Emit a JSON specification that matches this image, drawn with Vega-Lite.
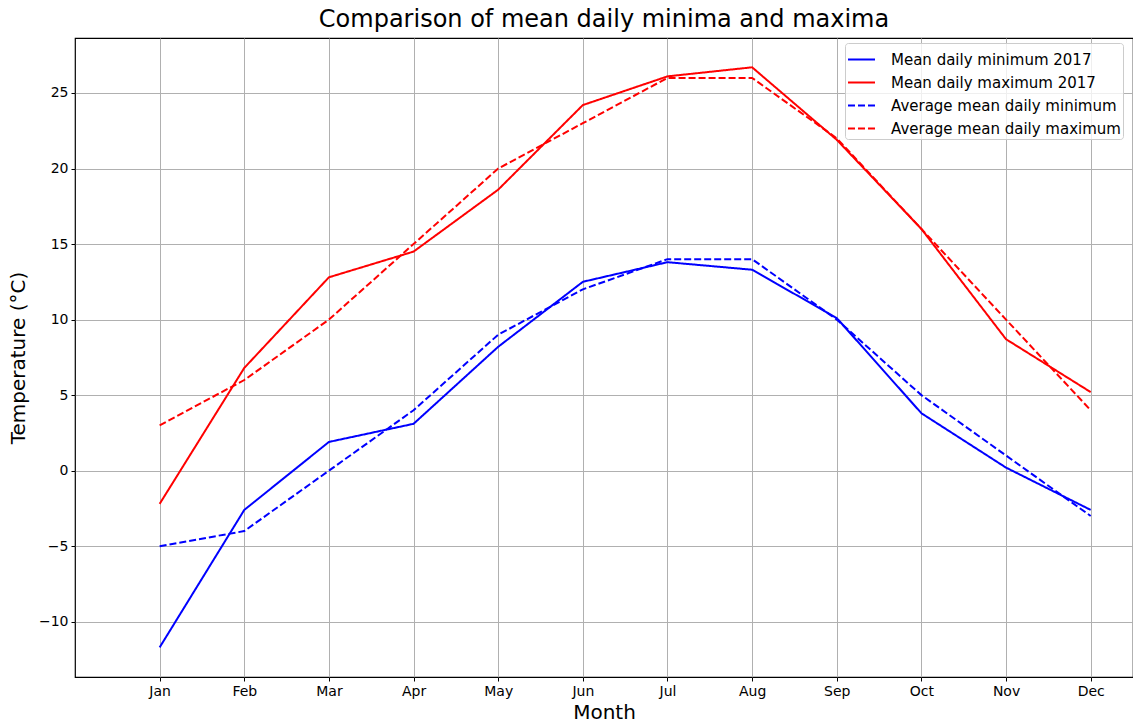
{
  "$schema": "https://vega.github.io/schema/vega-lite/v6.json",
  "width": 1058,
  "height": 639,
  "autosize": "none",
  "padding": {"left": 75, "top": 38, "right": 0, "bottom": 45},
  "background": "white",
  "config": {
    "font": "DejaVu Sans",
    "view": {"stroke": "#000000", "strokeWidth": 1.2},
    "axis": {
      "grid": true,
      "gridColor": "#b0b0b0",
      "gridWidth": 1,
      "domain": false,
      "tickColor": "#000000",
      "tickSize": 4,
      "labelFont": "DejaVu Sans",
      "labelFontSize": 14,
      "labelColor": "#000000",
      "titleFont": "DejaVu Sans",
      "titleFontSize": 20,
      "titleFontWeight": "normal",
      "titleColor": "#000000"
    },
    "legend": {
      "labelFont": "DejaVu Sans",
      "labelFontSize": 15,
      "labelColor": "#000000",
      "labelLimit": 400,
      "labelOffset": 15,
      "symbolType": "stroke",
      "symbolSize": 729,
      "symbolStrokeWidth": 2,
      "rowPadding": 0,
      "padding": 2,
      "fillColor": "rgba(255,255,255,0.8)",
      "strokeColor": "#cccccc",
      "cornerRadius": 3
    }
  },
  "title": {
    "text": "Comparison of mean daily minima and maxima",
    "font": "DejaVu Sans",
    "fontSize": 24,
    "fontWeight": "normal",
    "color": "#000000",
    "anchor": "middle",
    "offset": 6
  },
  "data": {
    "values": [
      {"month": 0, "temp": -11.7, "series": "Mean daily minimum 2017"},
      {"month": 1, "temp": -2.6, "series": "Mean daily minimum 2017"},
      {"month": 2, "temp": 1.9, "series": "Mean daily minimum 2017"},
      {"month": 3, "temp": 3.1, "series": "Mean daily minimum 2017"},
      {"month": 4, "temp": 8.2, "series": "Mean daily minimum 2017"},
      {"month": 5, "temp": 12.5, "series": "Mean daily minimum 2017"},
      {"month": 6, "temp": 13.8, "series": "Mean daily minimum 2017"},
      {"month": 7, "temp": 13.3, "series": "Mean daily minimum 2017"},
      {"month": 8, "temp": 10.1, "series": "Mean daily minimum 2017"},
      {"month": 9, "temp": 3.8, "series": "Mean daily minimum 2017"},
      {"month": 10, "temp": 0.2, "series": "Mean daily minimum 2017"},
      {"month": 11, "temp": -2.6, "series": "Mean daily minimum 2017"},
      {"month": 0, "temp": -2.2, "series": "Mean daily maximum 2017"},
      {"month": 1, "temp": 6.8, "series": "Mean daily maximum 2017"},
      {"month": 2, "temp": 12.8, "series": "Mean daily maximum 2017"},
      {"month": 3, "temp": 14.5, "series": "Mean daily maximum 2017"},
      {"month": 4, "temp": 18.6, "series": "Mean daily maximum 2017"},
      {"month": 5, "temp": 24.2, "series": "Mean daily maximum 2017"},
      {"month": 6, "temp": 26.1, "series": "Mean daily maximum 2017"},
      {"month": 7, "temp": 26.7, "series": "Mean daily maximum 2017"},
      {"month": 8, "temp": 21.9, "series": "Mean daily maximum 2017"},
      {"month": 9, "temp": 16.0, "series": "Mean daily maximum 2017"},
      {"month": 10, "temp": 8.7, "series": "Mean daily maximum 2017"},
      {"month": 11, "temp": 5.2, "series": "Mean daily maximum 2017"},
      {"month": 0, "temp": -5, "series": "Average mean daily minimum"},
      {"month": 1, "temp": -4, "series": "Average mean daily minimum"},
      {"month": 2, "temp": 0, "series": "Average mean daily minimum"},
      {"month": 3, "temp": 4, "series": "Average mean daily minimum"},
      {"month": 4, "temp": 9, "series": "Average mean daily minimum"},
      {"month": 5, "temp": 12, "series": "Average mean daily minimum"},
      {"month": 6, "temp": 14, "series": "Average mean daily minimum"},
      {"month": 7, "temp": 14, "series": "Average mean daily minimum"},
      {"month": 8, "temp": 10, "series": "Average mean daily minimum"},
      {"month": 9, "temp": 5, "series": "Average mean daily minimum"},
      {"month": 10, "temp": 1, "series": "Average mean daily minimum"},
      {"month": 11, "temp": -3, "series": "Average mean daily minimum"},
      {"month": 0, "temp": 3, "series": "Average mean daily maximum"},
      {"month": 1, "temp": 6, "series": "Average mean daily maximum"},
      {"month": 2, "temp": 10, "series": "Average mean daily maximum"},
      {"month": 3, "temp": 15, "series": "Average mean daily maximum"},
      {"month": 4, "temp": 20, "series": "Average mean daily maximum"},
      {"month": 5, "temp": 23, "series": "Average mean daily maximum"},
      {"month": 6, "temp": 26, "series": "Average mean daily maximum"},
      {"month": 7, "temp": 26, "series": "Average mean daily maximum"},
      {"month": 8, "temp": 22, "series": "Average mean daily maximum"},
      {"month": 9, "temp": 16, "series": "Average mean daily maximum"},
      {"month": 10, "temp": 10, "series": "Average mean daily maximum"},
      {"month": 11, "temp": 4, "series": "Average mean daily maximum"}
    ]
  },
  "mark": {"type": "line", "strokeWidth": 2, "clip": true},
  "encoding": {
    "x": {
      "field": "month",
      "type": "quantitative",
      "scale": {"domain": [-1, 11.5], "nice": false, "zero": false},
      "axis": {
        "title": "Month",
        "values": [0, 1, 2, 3, 4, 5, 6, 7, 8, 9, 10, 11],
        "labelExpr": "['Jan','Feb','Mar','Apr','May','Jun','Jul','Aug','Sep','Oct','Nov','Dec'][datum.value]",
        "labelPadding": 3,
        "titlePadding": 4
      }
    },
    "y": {
      "field": "temp",
      "type": "quantitative",
      "scale": {"domain": [-13.66, 28.64], "nice": false, "zero": false},
      "axis": {
        "title": "Temperature (°C)",
        "values": [-10, -5, 0, 5, 10, 15, 20, 25],
        "labelPadding": 3,
        "titlePadding": 10
      }
    },
    "color": {
      "field": "series",
      "type": "nominal",
      "sort": null,
      "scale": {
        "domain": ["Mean daily minimum 2017", "Mean daily maximum 2017", "Average mean daily minimum", "Average mean daily maximum"],
        "range": ["#0000ff", "#ff0000", "#0000ff", "#ff0000"]
      },
      "legend": {"title": null, "orient": "none", "legendX": 770, "legendY": 5}
    },
    "strokeDash": {
      "field": "series",
      "type": "nominal",
      "sort": null,
      "scale": {
        "domain": ["Mean daily minimum 2017", "Mean daily maximum 2017", "Average mean daily minimum", "Average mean daily maximum"],
        "range": [[1, 0], [1, 0], [7, 3], [7, 3]]
      },
      "legend": {"title": null, "orient": "none", "legendX": 770, "legendY": 5}
    }
  }
}
